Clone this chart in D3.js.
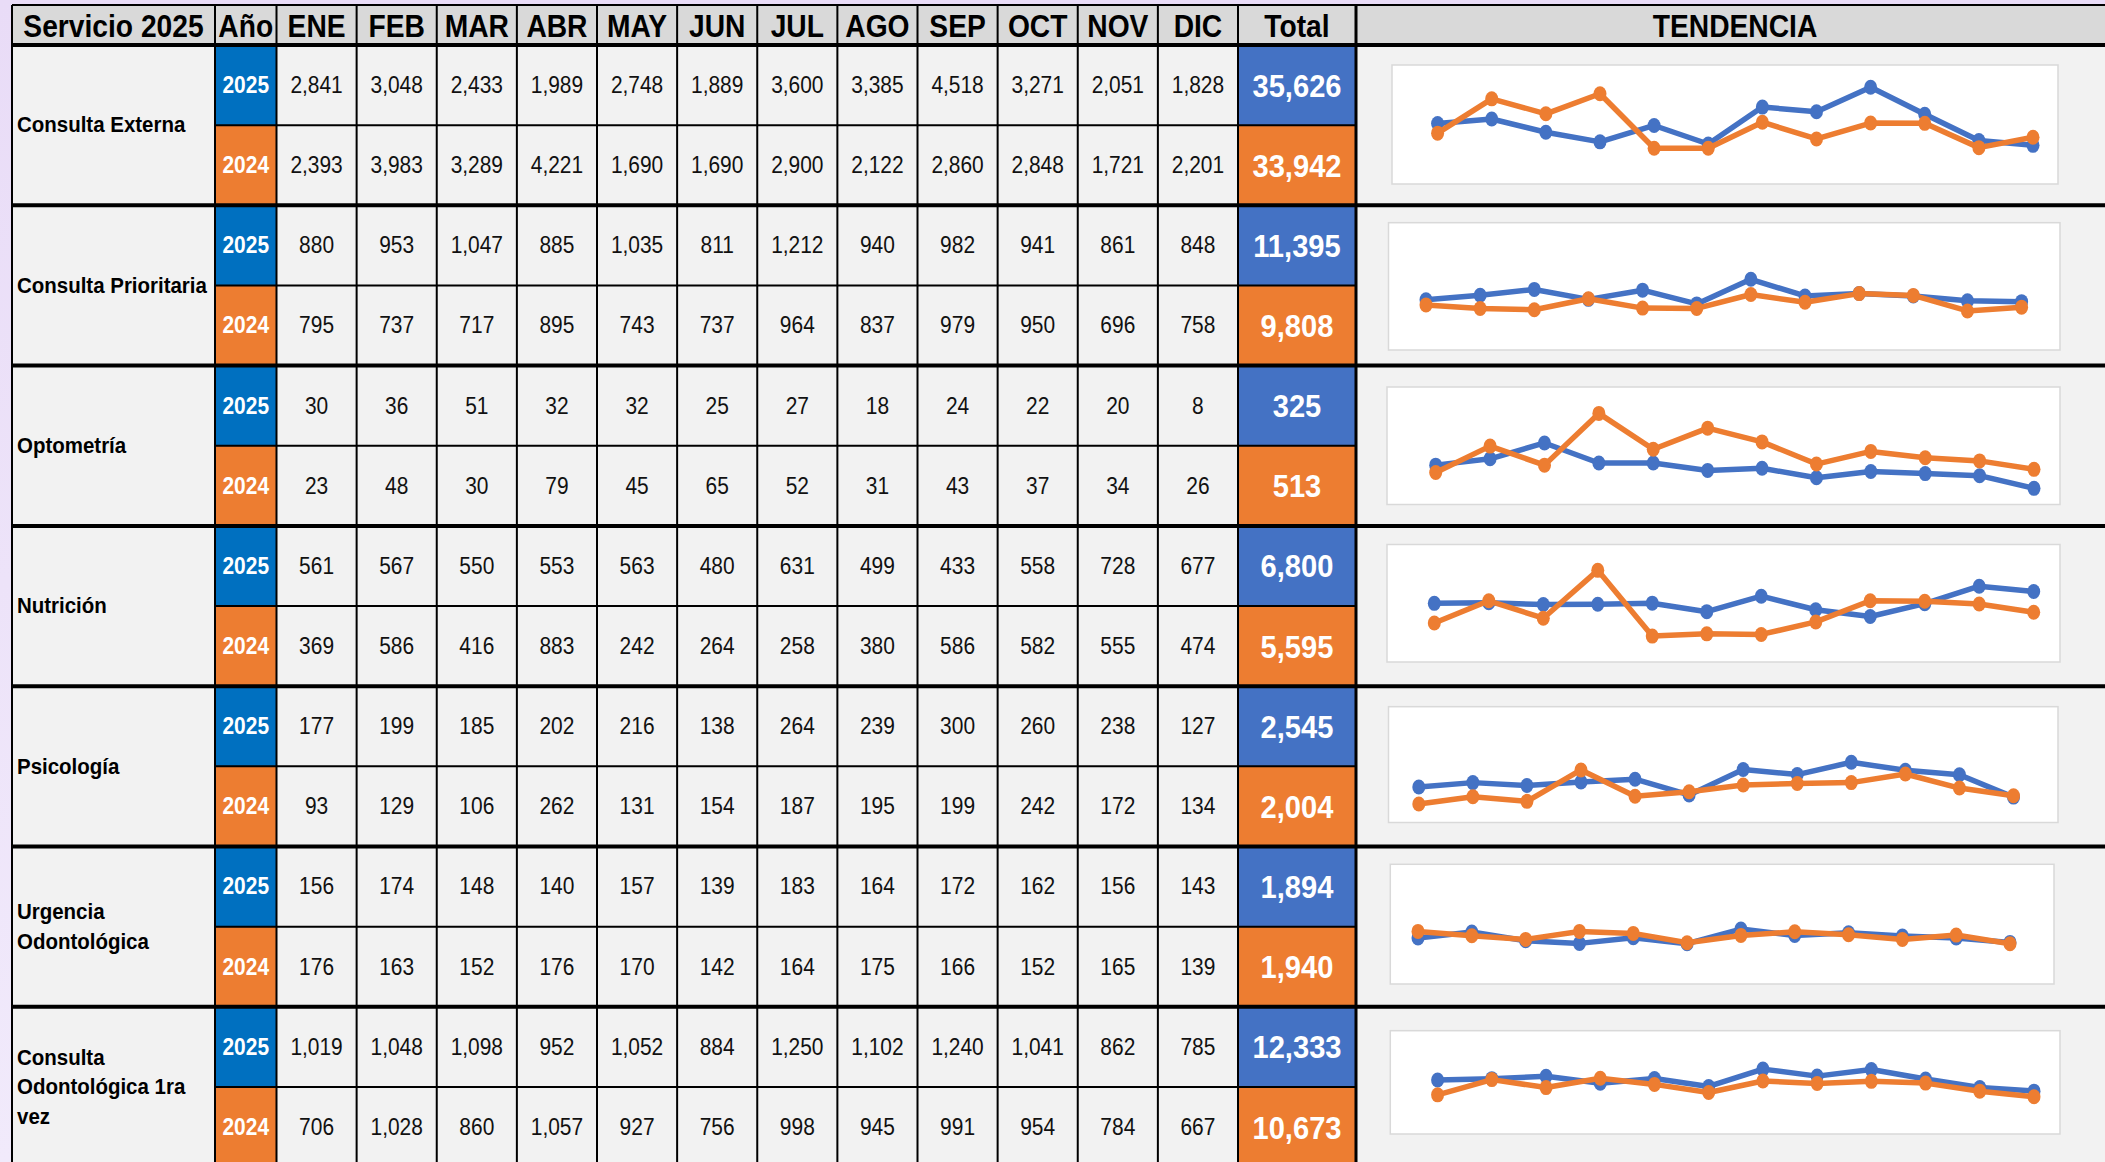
<!DOCTYPE html>
<html>
<head>
<meta charset="utf-8">
<script src="https://cdn.jsdelivr.net/npm/d3@7"></script>
<style>
  html, body { margin: 0; padding: 0; background: #ede4f8; }
  svg { display: block; font-family: "Liberation Sans", Arial, sans-serif; }
</style>
</head>
<body>
<svg id="chart" width="2105" height="1162"></svg>
<script>
const months = ["ENE", "FEB", "MAR", "ABR", "MAY", "JUN", "JUL", "AGO", "SEP", "OCT", "NOV", "DIC"];
const years = ["2025", "2024"];
const services = ["Consulta Externa", "Consulta Prioritaria", "Optometría", "Nutrición",
  "Psicología", "Urgencia Odontológica", "Consulta Odontológica 1ra vez"];
const serviceLines = [["Consulta Externa"], ["Consulta Prioritaria"], ["Optometría"], ["Nutrición"],
  ["Psicología"], ["Urgencia", "Odontológica"], ["Consulta", "Odontológica 1ra", "vez"]];

const values2025 = [
  [2841, 3048, 2433, 1989, 2748, 1889, 3600, 3385, 4518, 3271, 2051, 1828],
  [880, 953, 1047, 885, 1035, 811, 1212, 940, 982, 941, 861, 848],
  [30, 36, 51, 32, 32, 25, 27, 18, 24, 22, 20, 8],
  [561, 567, 550, 553, 563, 480, 631, 499, 433, 558, 728, 677],
  [177, 199, 185, 202, 216, 138, 264, 239, 300, 260, 238, 127],
  [156, 174, 148, 140, 157, 139, 183, 164, 172, 162, 156, 143],
  [1019, 1048, 1098, 952, 1052, 884, 1250, 1102, 1240, 1041, 862, 785]
];
const values2024 = [
  [2393, 3983, 3289, 4221, 1690, 1690, 2900, 2122, 2860, 2848, 1721, 2201],
  [795, 737, 717, 895, 743, 737, 964, 837, 979, 950, 696, 758],
  [23, 48, 30, 79, 45, 65, 52, 31, 43, 37, 34, 26],
  [369, 586, 416, 883, 242, 264, 258, 380, 586, 582, 555, 474],
  [93, 129, 106, 262, 131, 154, 187, 195, 199, 242, 172, 134],
  [176, 163, 152, 176, 170, 142, 164, 175, 166, 152, 165, 139],
  [706, 1028, 860, 1057, 927, 756, 998, 945, 991, 954, 784, 667]
];
const totals2025 = [35626, 11395, 325, 6800, 2545, 1894, 12333];
const totals2024 = [33942, 9808, 513, 5595, 2004, 1940, 10673];

// each embedded trend chart sits a little differently inside its cell
const trendLayout = [
  { x0: 1392, x1: 2058, t: 20, b: 139, p0: 1437.6, p1: 2033, zero: 139.75, max: 5552 },
  { x0: 1388.5, x1: 2060, t: 17.4, b: 144.7, p0: 1426, p1: 2021.6, zero: 148.4, max: 2134 },
  { x0: 1387, x1: 2060, t: 21.4, b: 138.9, p0: 1435.7, p1: 2034, zero: 131.2, max: 104 },
  { x0: 1387, x1: 2060, t: 18.6, b: 136.1, p0: 1434.3, p1: 2033.7, zero: 135, max: 1135 },
  { x0: 1388.5, x1: 2058, t: 20.5, b: 136.3, p0: 1418.8, p1: 2013.5, zero: 136.5, max: 576 },
  { x0: 1390.3, x1: 2054, t: 17.8, b: 137.5, p0: 1418, p1: 2010, zero: 143.4, max: 378 },
  { x0: 1390.3, x1: 2060, t: 23.9, b: 127.2, p0: 1437.6, p1: 2034, zero: 121.5, max: 2061 }
];

const colors = { ano2025: "#0070c0", tot2025: "#4472c4", orange: "#ed7d31", cell: "#f2f2f2", head: "#d9d9d9" };
const fmt = d3.format(",");
const squeeze = 0.91; // the sheet text is a bit condensed

const svg = d3.select("#chart");
const W = 2105, H = 1162;

// background
const grad = svg.append("defs").append("linearGradient").attr("id", "bg").attr("x1", 0).attr("x2", 0).attr("y1", 0).attr("y2", 1);
grad.append("stop").attr("offset", 0).attr("stop-color", "#e9dcf7");
grad.append("stop").attr("offset", 1).attr("stop-color", "#f1eafb");
svg.append("rect").attr("width", W).attr("height", H).attr("fill", "url(#bg)");

// column edges
const colServ = [12, 215], colAno = [215, 276.5], colTot = [1238, 1356], colTrend = [1356, 2114];
const headTop = 5, headBot = 45, groupH = 160.3;

const x = d3.scaleBand().domain(months).range([276.5, 1238]);
const row = d3.scaleBand().domain(services).range([headBot, headBot + services.length * groupH]);
const sub = d3.scaleBand().domain(years).range([0, groupH]);

const at = (px, py) => `translate(${px},${py}) scale(${squeeze},1)`;

// header
const head = svg.append("g");
const headCols = [
  { label: "Servicio 2025", x0: colServ[0], x1: colServ[1] },
  { label: "Año", x0: colAno[0], x1: colAno[1] },
  ...months.map(m => ({ label: m, x0: x(m), x1: x(m) + x.bandwidth() })),
  { label: "Total", x0: colTot[0], x1: colTot[1] },
  { label: "TENDENCIA", x0: colTrend[0], x1: colTrend[1] }
];
head.selectAll("rect").data(headCols).enter().append("rect")
  .attr("x", d => d.x0).attr("y", headTop).attr("width", d => d.x1 - d.x0).attr("height", headBot - headTop)
  .attr("fill", colors.head);
head.selectAll("text").data(headCols).enter().append("text")
  .attr("transform", d => at((d.x0 + d.x1) / 2, (headTop + headBot) / 2 + 1))
  .attr("text-anchor", "middle").attr("dominant-baseline", "central")
  .attr("font-size", 31).attr("font-weight", "bold").attr("fill", "#000")
  .text(d => d.label);

// body groups
const groups = svg.append("g").selectAll("g").data(services).enter().append("g")
  .attr("transform", d => `translate(0,${row(d)})`);

groups.append("rect")
  .attr("x", colServ[0]).attr("width", colTrend[1] - colServ[0]).attr("height", groupH)
  .attr("fill", colors.cell);

groups.append("text")
  .attr("transform", at(17, 0))
  .attr("font-size", 22.5).attr("font-weight", "bold").attr("fill", "#000")
  .each(function (d, i) {
    const lines = serviceLines[i];
    const lh = 29.5;
    d3.select(this).selectAll("tspan").data(lines).enter().append("tspan")
      .attr("x", 0)
      .attr("y", (l, k) => groupH / 2 + (k - (lines.length - 1) / 2) * lh)
      .attr("dominant-baseline", "central")
      .text(l => l);
  });

years.forEach((yr, yi) => {
  const vals = yi === 0 ? values2025 : values2024;
  const tots = yi === 0 ? totals2025 : totals2024;
  const cy = sub(yr) + sub.bandwidth() / 2;

  groups.append("rect")
    .attr("x", colAno[0]).attr("y", sub(yr)).attr("width", colAno[1] - colAno[0]).attr("height", sub.bandwidth())
    .attr("fill", yi === 0 ? colors.ano2025 : colors.orange);
  groups.append("text")
    .attr("transform", at((colAno[0] + colAno[1]) / 2, cy))
    .attr("text-anchor", "middle").attr("dominant-baseline", "central")
    .attr("font-size", 23).attr("font-weight", "bold").attr("fill", "#fff")
    .text(yr);

  groups.append("rect")
    .attr("x", colTot[0]).attr("y", sub(yr)).attr("width", colTot[1] - colTot[0]).attr("height", sub.bandwidth())
    .attr("fill", yi === 0 ? colors.tot2025 : colors.orange);
  groups.append("text")
    .attr("transform", at((colTot[0] + colTot[1]) / 2, cy))
    .attr("text-anchor", "middle").attr("dominant-baseline", "central")
    .attr("font-size", 32).attr("font-weight", "bold").attr("fill", "#fff")
    .text((d, i) => fmt(tots[i]));

  groups.each(function (d, i) {
    d3.select(this).append("g").selectAll("text").data(vals[i]).enter().append("text")
      .attr("transform", (v, k) => at(x(months[k]) + x.bandwidth() / 2, cy))
      .attr("text-anchor", "middle").attr("dominant-baseline", "central")
      .attr("font-size", 23).attr("fill", "#111")
      .text(v => fmt(v));
  });
});

// grid lines
const grid = svg.append("g").attr("stroke", "#000");
const yEnd = row.range()[1];
const vEdges = [colServ[0], colAno[0], ...months.map(m => x(m)), colTot[0], colTot[1]];
grid.selectAll(".v").data(vEdges).enter().append("line")
  .attr("x1", d => d).attr("x2", d => d).attr("y1", headTop).attr("y2", yEnd)
  .attr("stroke-width", (d, i) => i === vEdges.length - 1 ? 3 : 2);
grid.append("line").attr("x1", colServ[0]).attr("x2", W).attr("y1", headTop).attr("y2", headTop).attr("stroke-width", 2);
grid.selectAll(".h").data(services).enter().append("line")
  .attr("x1", colServ[0]).attr("x2", W)
  .attr("y1", d => row(d)).attr("y2", d => row(d)).attr("stroke-width", 4);
grid.selectAll(".s").data(services).enter().append("line")
  .attr("x1", colAno[0]).attr("x2", colTot[1])
  .attr("y1", d => row(d) + sub("2024")).attr("y2", d => row(d) + sub("2024")).attr("stroke-width", 2);

// trend charts
groups.each(function (d, i) {
  const L = trendLayout[i];
  const g = d3.select(this).append("g");
  g.append("rect")
    .attr("x", L.x0).attr("y", L.t).attr("width", L.x1 - L.x0).attr("height", L.b - L.t)
    .attr("fill", "#fff").attr("stroke", "#d9d9d9").attr("stroke-width", 1.5);

  const tx = d3.scalePoint().domain(months).range([L.p0, L.p1]);
  const ty = d3.scaleLinear().domain([0, L.max]).range([L.zero, L.t]);
  const line = d3.line().x((v, k) => tx(months[k])).y(v => ty(v));

  [[values2025[i], colors.tot2025], [values2024[i], colors.orange]].forEach(([vals, c]) => {
    g.append("path").attr("d", line(vals)).attr("fill", "none")
      .attr("stroke", c).attr("stroke-width", 5.5).attr("stroke-linejoin", "round");
    g.append("g").selectAll("ellipse").data(vals).enter().append("ellipse")
      .attr("cx", (v, k) => tx(months[k])).attr("cy", v => ty(v))
      .attr("rx", 6.5).attr("ry", 7.5).attr("fill", c);
  });
});
</script>
</body>
</html>
